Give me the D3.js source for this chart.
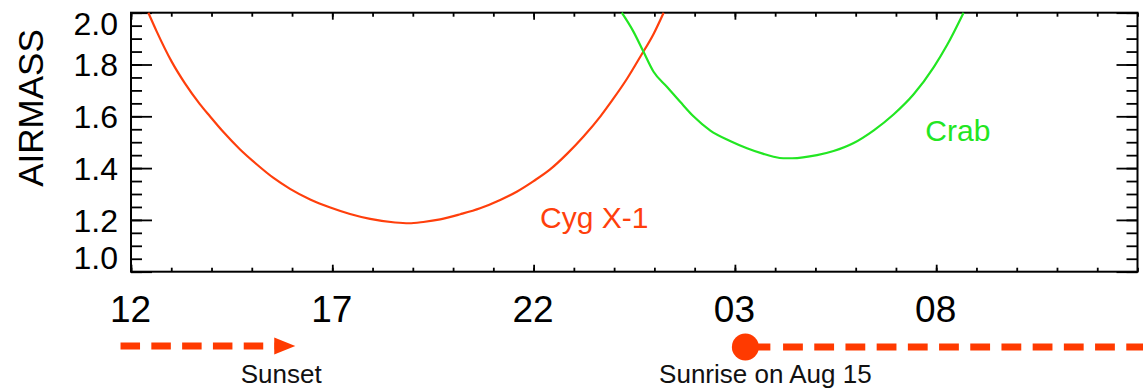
<!DOCTYPE html>
<html>
<head>
<meta charset="utf-8">
<script src="https://cdn.jsdelivr.net/npm/d3@7"></script>
<style>
  html, body { margin: 0; padding: 0; background: #fff; }
  svg { display: block; font-family: "Liberation Sans", Arial, Helvetica, sans-serif; }
</style>
</head>
<body>
<svg id="chart" width="1143" height="388"></svg>
<script>
// Hours are counted continuously from noon of the first day (24 = midnight, 27 = 03h next day).
const cygHours   = [12.43, 12.64, 13.01, 13.34, 13.71, 13.96, 14.29, 14.71, 15.12, 15.54, 15.95, 16.45,
                    16.95, 17.44, 17.94, 18.56, 18.90, 19.26, 19.68, 20.18, 20.67, 21.17, 21.58, 22.00,
                    22.41, 22.83, 23.24, 23.66, 23.99, 24.32, 24.65, 24.98, 25.23];
const cygAirmass = [2.000, 1.927, 1.811, 1.727, 1.647, 1.600, 1.540, 1.472, 1.415, 1.362, 1.320, 1.279,
                    1.248, 1.223, 1.204, 1.190, 1.187, 1.192, 1.202, 1.222, 1.245, 1.277, 1.309, 1.350,
                    1.395, 1.455, 1.522, 1.600, 1.670, 1.745, 1.830, 1.918, 2.000];

const crabHours   = [24.19, 24.48, 24.73, 24.98, 25.31, 25.64, 25.97, 26.39, 26.88, 27.30, 27.71,
                     27.96, 28.20, 28.42, 29.04, 29.45, 29.95, 30.45, 30.94, 31.44, 31.94, 32.27, 32.68];
const crabAirmass = [2.000, 1.927, 1.849, 1.772, 1.714, 1.656, 1.600, 1.545, 1.505, 1.477, 1.455,
                     1.444, 1.438, 1.438, 1.450, 1.466, 1.497, 1.546, 1.607, 1.685, 1.790, 1.875, 2.000];

const hourTicks  = [12, 17, 22, 27, 32];
const hourLabels = ["12", "17", "22", "03", "08"];
const airmassTicks  = [1.0, 1.2, 1.4, 1.6, 1.8, 2.0];
const airmassLabels = ["1.0", "1.2", "1.4", "1.6", "1.8", "2.0"];

const sunsetHour  = 16.08;
const sunriseHour = 27.26;
const dayStartHour = 11.74;
const dayEndHour   = 37.6;

const W = 1143, H = 388;
const plot = { left: 131, right: 1137.5, top: 12.7, bottom: 271.7 };
const cygColor = "#ff3f0c", crabColor = "#22e622", sunColor = "#ff3a00";

const svg = d3.select("#chart");

const x = d3.scaleLinear().domain([12, 37]).range([plot.left, plot.right]);
const y = d3.scaleLinear().domain([1.0, 2.0]).range([plot.bottom, plot.top]);

const minorHours = d3.range(12, 37.001, 1);
const minorAirmass = d3.range(1.0, 2.0001, 0.05).map(v => +v.toFixed(2));

function stripDomain(g) { g.select(".domain").remove(); }

// minor ticks on all four sides
svg.append("g").attr("transform", `translate(0,${plot.bottom})`)
  .call(d3.axisBottom(x).tickValues(minorHours).tickSize(-4).tickFormat(""))
  .call(stripDomain);
svg.append("g").attr("transform", `translate(0,${plot.top})`)
  .call(d3.axisTop(x).tickValues(minorHours).tickSize(-4).tickFormat(""))
  .call(stripDomain);
svg.append("g").attr("transform", `translate(${plot.left},0)`)
  .call(d3.axisLeft(y).tickValues(minorAirmass).tickSize(-11).tickFormat(""))
  .call(stripDomain);
svg.append("g").attr("transform", `translate(${plot.right},0)`)
  .call(d3.axisRight(y).tickValues(minorAirmass).tickSize(-11).tickFormat(""))
  .call(stripDomain);

// major ticks with labels
const xAxis = svg.append("g").attr("transform", `translate(0,${plot.bottom})`)
  .call(d3.axisBottom(x).tickValues(hourTicks).tickSize(-7).tickPadding(24)
        .tickFormat((d, i) => hourLabels[i]))
  .call(stripDomain);
xAxis.selectAll("text").attr("font-size", 37).attr("font-family", null).attr("dx", -1).attr("fill", "#000");

svg.append("g").attr("transform", `translate(0,${plot.top})`)
  .call(d3.axisTop(x).tickValues(hourTicks).tickSize(-7).tickFormat(""))
  .call(stripDomain);

const yAxis = svg.append("g").attr("transform", `translate(${plot.left},0)`)
  .call(d3.axisLeft(y).tickValues(airmassTicks).tickSize(-21).tickPadding(13)
        .tickFormat((d, i) => airmassLabels[i]))
  .call(stripDomain);
yAxis.selectAll("text").attr("font-size", 32).attr("font-family", null).attr("fill", "#000")
  .attr("dy", d => d === 2.0 ? "0.68em" : d === 1.0 ? "-0.1em" : "0.35em");

svg.append("g").attr("transform", `translate(${plot.right},0)`)
  .call(d3.axisRight(y).tickValues(airmassTicks).tickSize(-21).tickFormat(""))
  .call(stripDomain);

svg.selectAll(".tick line").attr("stroke", "#000").attr("stroke-width", 1.8);

// frame
svg.append("rect")
  .attr("x", plot.left).attr("y", plot.top)
  .attr("width", plot.right - plot.left).attr("height", plot.bottom - plot.top)
  .attr("fill", "none").attr("stroke", "#000").attr("stroke-width", 2);

// y axis title
svg.append("text")
  .attr("transform", "translate(43,108) rotate(-90)")
  .attr("text-anchor", "middle")
  .attr("font-size", 35)
  .attr("fill", "#000")
  .text("AIRMASS");

// airmass curves
const line = d3.line().x(d => x(d[0])).y(d => y(d[1])).curve(d3.curveMonotoneX);
svg.append("clipPath").attr("id", "plotclip").append("rect")
  .attr("x", plot.left).attr("y", plot.top - 1)
  .attr("width", plot.right - plot.left).attr("height", plot.bottom - plot.top + 1);

svg.append("path")
  .datum(d3.zip(cygHours, cygAirmass))
  .attr("clip-path", "url(#plotclip)")
  .attr("d", line).attr("fill", "none")
  .attr("stroke", cygColor).attr("stroke-width", 2.2);

svg.append("path")
  .datum(d3.zip(crabHours, crabAirmass))
  .attr("clip-path", "url(#plotclip)")
  .attr("d", line).attr("fill", "none")
  .attr("stroke", crabColor).attr("stroke-width", 2.2);

// curve labels
svg.append("text")
  .attr("x", x(22.16)).attr("y", y(1.169))
  .attr("font-size", 30).attr("fill", cygColor)
  .text("Cyg X-1");
svg.append("text")
  .attr("x", x(31.73)).attr("y", y(1.505))
  .attr("font-size", 30).attr("fill", crabColor)
  .text("Crab");

// daylight markers below the axis
const sunY = 346;
const sx = x(sunsetHour);
svg.append("line")
  .attr("x1", x(dayStartHour)).attr("x2", sx - 20)
  .attr("y1", sunY).attr("y2", sunY)
  .attr("stroke", sunColor).attr("stroke-width", 7)
  .attr("stroke-dasharray", "19.5,11.3");
svg.append("path")
  .attr("d", `M${sx - 21},${sunY - 8.5} L${sx},${sunY} L${sx - 21},${sunY + 8.5} Z`)
  .attr("fill", sunColor);
svg.append("text")
  .attr("x", sx - 14).attr("y", 383)
  .attr("text-anchor", "middle").attr("font-size", 26).attr("fill", "#111")
  .text("Sunset");

const rx = x(sunriseHour);
svg.append("line")
  .attr("x1", rx).attr("x2", rx + 25)
  .attr("y1", sunY + 1).attr("y2", sunY + 1)
  .attr("stroke", sunColor).attr("stroke-width", 7);
svg.append("line")
  .attr("x1", rx + 37.7).attr("x2", x(dayEndHour))
  .attr("y1", sunY + 1).attr("y2", sunY + 1)
  .attr("stroke", sunColor).attr("stroke-width", 7)
  .attr("stroke-dasharray", "19.8,11.4");
svg.append("circle")
  .attr("cx", rx).attr("cy", sunY + 1).attr("r", 13.5)
  .attr("fill", sunColor);
svg.append("text")
  .attr("x", rx + 20).attr("y", 383)
  .attr("text-anchor", "middle").attr("font-size", 26).attr("fill", "#111")
  .text("Sunrise on Aug 15");
</script>
</body>
</html>
